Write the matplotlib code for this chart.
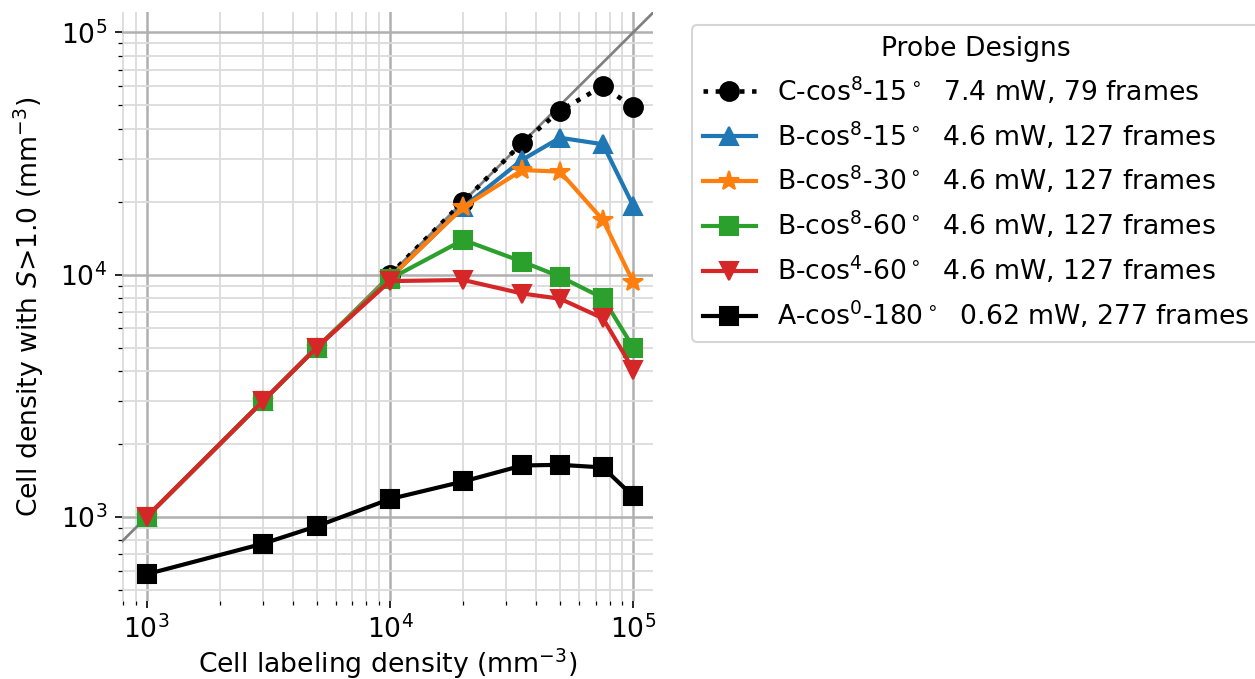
import numpy as np
import matplotlib
matplotlib.use('Agg')
import matplotlib.pyplot as plt

# labeling densities (mm^-3)
density = [1000, 3000, 5000, 10000, 20000, 35000, 50000, 75000, 100000]
density_c = [10000, 20000, 35000, 50000, 75000, 100000]

# detected cell densities with S>1.0
c_cos8_15 = [10000, 20000, 35000, 47500, 60000, 49000]
b_cos8_15 = [1000, 3000, 5000, 9700, 19000, 29800, 36700, 34500, 19200]
b_cos8_30 = [1000, 3000, 5000, 9700, 19000, 27000, 26600, 16800, 9300]
b_cos8_60 = [1000, 3000, 5000, 9600, 13900, 11300, 9800, 8000, 5000]
b_cos4_60 = [1000, 3000, 5000, 9400, 9500, 8350, 7950, 6600, 4050]
a_cos0_180 = [580, 775, 915, 1185, 1400, 1630, 1640, 1600, 1215]

labels = [r'C-cos$^8$-15$^\circ$  7.4 mW, 79 frames',
          r'B-cos$^8$-15$^\circ$  4.6 mW, 127 frames',
          r'B-cos$^8$-30$^\circ$  4.6 mW, 127 frames',
          r'B-cos$^8$-60$^\circ$  4.6 mW, 127 frames',
          r'B-cos$^4$-60$^\circ$  4.6 mW, 127 frames',
          r'A-cos$^0$-180$^\circ$  0.62 mW, 277 frames']

plt.rcParams['font.size'] = 12.8

fig = plt.figure(figsize=(1255/150, 679/150), dpi=150)
ax = fig.add_axes([0.097, 0.115, 0.423, 0.867])

ms = 9
lw = 2
ax.plot(density_c, c_cos8_15, ':o', color='black', ms=ms, lw=2.2, label=labels[0], zorder=3)
ax.plot(density, b_cos8_15, '-^', color='tab:blue', ms=ms, lw=lw, label=labels[1], zorder=3)
ax.plot(density, b_cos8_30, '-*', color='tab:orange', ms=ms+1, lw=lw, label=labels[2], zorder=3)
ax.plot(density, b_cos8_60, '-s', color='tab:green', ms=ms, lw=lw, label=labels[3], zorder=3)
ax.plot(density, b_cos4_60, '-v', color='tab:red', ms=ms, lw=lw, label=labels[4], zorder=3)
ax.plot(density, a_cos0_180, '-s', color='black', ms=ms, lw=lw, label=labels[5], zorder=3)

# identity line
ax.axline((1000, 1000), (100000, 100000), color='gray', lw=1.3, zorder=1.5)

ax.set_xscale('log')
ax.set_yscale('log')
ax.set_xlim(790, 1.2e5)
ax.set_ylim(450, 1.21e5)

ax.grid(True, which='major', color='#b0b0b0', lw=1.2)
ax.grid(True, which='minor', color='#dcdcdc', lw=0.9)
ax.set_axisbelow(True)
for s in ax.spines.values():
    s.set_visible(False)

ax.set_xlabel(r'Cell labeling density (mm$^{-3}$)', labelpad=1)
ax.set_ylabel(r'Cell density with $S$>1.0 (mm$^{-3}$)', labelpad=7)

ax.legend(title='Probe Designs', loc='upper left', bbox_to_anchor=(1.074, 0.978),
          borderaxespad=0, fontsize=12.8, title_fontsize=12.8)

fig.savefig('out.png', dpi=150)
